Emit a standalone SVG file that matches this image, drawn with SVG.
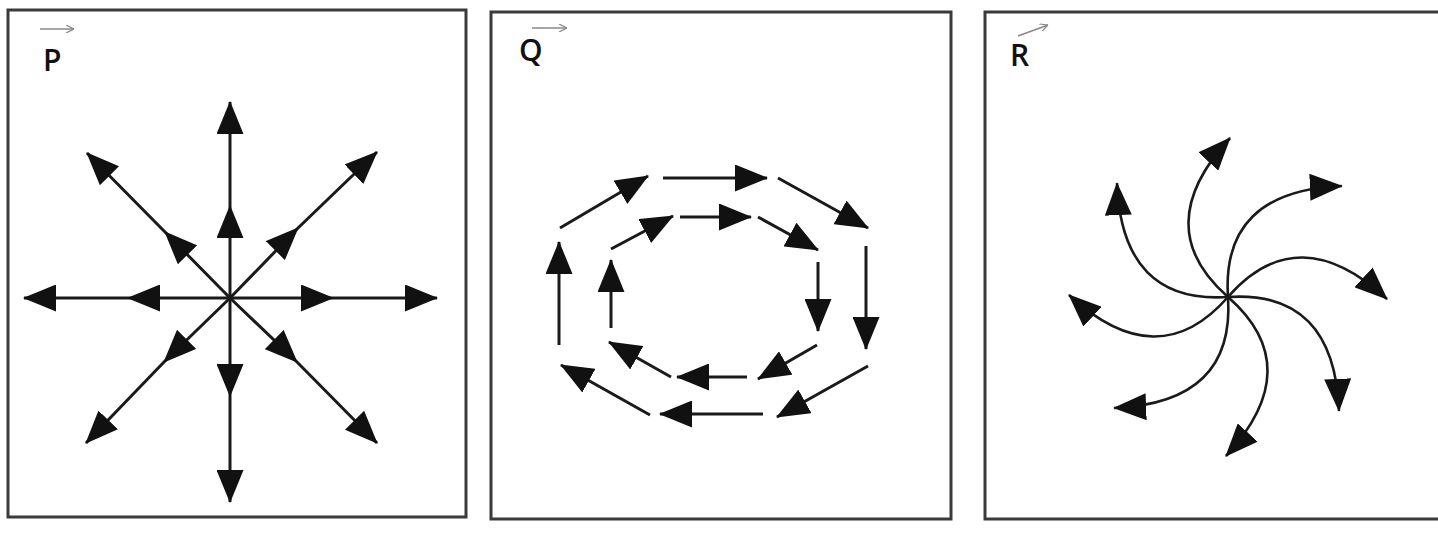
<svg xmlns="http://www.w3.org/2000/svg" width="1438" height="547" viewBox="0 0 1438 547">
<defs>
<marker id="ah" markerUnits="userSpaceOnUse" markerWidth="33" markerHeight="27" viewBox="0 0 33 27" refX="32" refY="13.5" orient="auto">
<path d="M0,0 L33,13.5 L0,27 Z" fill="#111"/>
</marker>
<marker id="sm" markerUnits="userSpaceOnUse" markerWidth="8" markerHeight="8" viewBox="0 0 8 8" refX="8" refY="4" orient="auto">
<path d="M0,0 L8,4 L0,8" fill="none" stroke="#888" stroke-width="1.2"/>
</marker>
</defs>
<style>
.frame{fill:#fff;stroke:#3a3a3a;stroke-width:3}
.ray{fill:none;stroke:#1a1a1a;stroke-width:3;marker-mid:url(#ah);marker-end:url(#ah)}
.seg{fill:none;stroke:#1a1a1a;stroke-width:3;marker-end:url(#ah)}
.sp{fill:none;stroke:#1a1a1a;stroke-width:2.6;marker-end:url(#ah)}
.lbl{font-family:"Open Sans","Noto Sans",sans-serif;font-size:30px;font-weight:600;fill:#111}
.vec{fill:none;stroke:#888;stroke-width:1.5;marker-end:url(#sm)}
</style>
<rect width="1438" height="547" fill="#fff"/>
<g id="panelP">
<rect class="frame" x="8" y="10" width="458" height="507"/>
<text class="lbl" x="43" y="71">P</text>
<path class="vec" d="M40,29 L74,29"/>
</g>
<g id="panelQ">
<rect class="frame" x="491" y="12" width="460" height="507"/>
<text class="lbl" x="519" y="61">Q</text>
<path class="vec" d="M532,28 L567,28"/>
</g>
<g id="panelR">
<rect class="frame" x="985" y="12" width="470" height="507"/>
<text class="lbl" x="1010" y="66">R</text>
<path class="vec" d="M1018,36 L1048,25"/>
</g>
<g id="connectors">
<g id="P-rays">
<path class="ray" d="M230,298 L230,206 L230,102"/>
<path class="ray" d="M230,298 L230,396 L230,502"/>
<path class="ray" d="M230,298 L128,298 L24,298"/>
<path class="ray" d="M230,298 L333,298 L437,298"/>
<path class="ray" d="M230,298 L165,232 L87,153"/>
<path class="ray" d="M230,298 L298,228 L377,152"/>
<path class="ray" d="M230,298 L164,362 L86,443"/>
<path class="ray" d="M230,298 L297,362 L377,443"/>
</g>
<g id="Q-outer">
<path class="seg" d="M560,228 L648,176"/>
<path class="seg" d="M663,178 L767,178"/>
<path class="seg" d="M778,178 L868,228"/>
<path class="seg" d="M866,246 L866,349"/>
<path class="seg" d="M868,366 L777,417"/>
<path class="seg" d="M763,414 L660,414"/>
<path class="seg" d="M650,415 L561,365"/>
<path class="seg" d="M559,345 L559,242"/>
</g>
<g id="Q-inner">
<path class="seg" d="M611,249 L673,216"/>
<path class="seg" d="M680,217 L751,217"/>
<path class="seg" d="M758,217 L818,250"/>
<path class="seg" d="M818,262 L818,331"/>
<path class="seg" d="M817,345 L758,379"/>
<path class="seg" d="M747,377 L677,377"/>
<path class="seg" d="M671,377 L609,342"/>
<path class="seg" d="M611,328 L611,260"/>
</g>
<g id="R-spiral">
<path class="sp" d="M1228,297 Q1298,217 1387,299"/>
<path class="sp" transform="rotate(45 1228 297)" d="M1228,297 Q1298,217 1387,299"/>
<path class="sp" transform="rotate(90 1228 297)" d="M1228,297 Q1298,217 1387,299"/>
<path class="sp" transform="rotate(135 1228 297)" d="M1228,297 Q1298,217 1387,299"/>
<path class="sp" transform="rotate(180 1228 297)" d="M1228,297 Q1298,217 1387,299"/>
<path class="sp" transform="rotate(225 1228 297)" d="M1228,297 Q1298,217 1387,299"/>
<path class="sp" transform="rotate(270 1228 297)" d="M1228,297 Q1298,217 1387,299"/>
<path class="sp" transform="rotate(315 1228 297)" d="M1228,297 Q1298,217 1387,299"/>
</g>
</g>
</svg>
